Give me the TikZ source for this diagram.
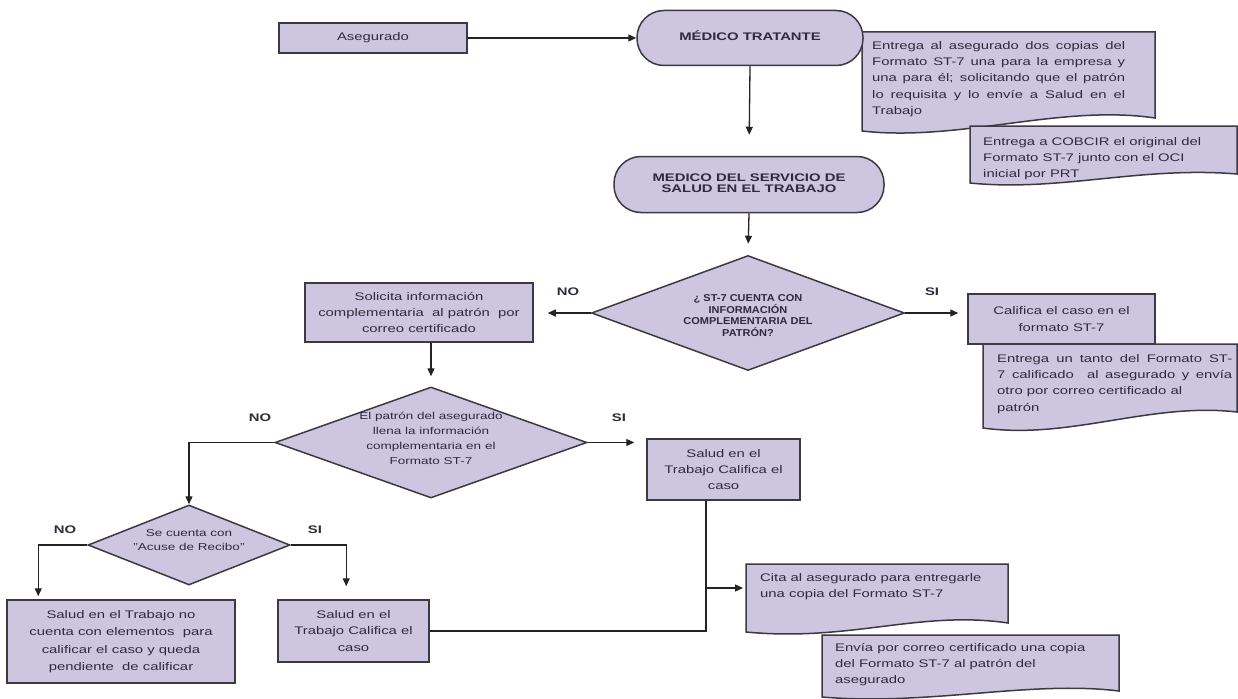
\documentclass[tikz,border=0pt]{standalone}
\usepackage{fontspec}
\setmainfont[FakeStretch=1.35]{Liberation Sans}
\newfontfamily\dfont[FakeStretch=1.1]{Liberation Sans}
\usetikzlibrary{arrows.meta,shapes.geometric}
\definecolor{boxfill}{RGB}{206,198,225}
\definecolor{boxline}{RGB}{58,58,64}
\definecolor{txt}{RGB}{45,43,60}
\definecolor{conn}{RGB}{35,35,35}
\newcommand\jst[2][253pt]{\makebox[#1][s]{#2}}
\tikzset{
 base/.style={draw=boxline, line width=1.5pt, fill=boxfill, text=txt, font=\fontsize{11}{16.2}\selectfont, inner sep=0pt},
 procbox/.style={base, rectangle, align=center},
 termbox/.style={base, rectangle, rounded corners=27pt, font=\fontsize{11}{16}\selectfont\bfseries, align=center},
 decbox/.style={base, diamond},
 doc/.style={draw=boxline, line width=1.5pt, fill=boxfill},
 txtnode/.style={text=txt, inner sep=0pt, font=\fontsize{11}{16.3}\selectfont},
 lbl/.style={text=txt, inner sep=0pt, font=\fontsize{11}{13}\selectfont\bfseries},
 conn/.style={draw=conn, line width=1.3pt},
 arr/.style={conn, -{Triangle[length=8pt,width=7pt]}},
}
\begin{document}
\begin{tikzpicture}[x=1pt,y=-1pt]
\useasboundingbox (0,0) rectangle (1238,698);

% top right document boxes
\draw[doc] (862,32) -- (1155,32) -- (1155,118) .. controls (1060,104) and (960,142) .. (862,131) -- cycle;
\node[txtnode, anchor=north west, align=left] (t1) at (872,41)
 {\jst{Entrega al asegurado dos copias del}\\
  \jst{Formato ST-7 una para la empresa y}\\
  \jst{una para él; solicitando que el patrón}\\
  \jst{lo requisita y lo envíe a Salud en el}\\
  Trabajo};
\draw[doc] (970,126) -- (1237,126) -- (1237,174) .. controls (1140,166) and (1060,192) .. (970,183) -- cycle;
\node[txtnode, anchor=north west, align=left] (t2) at (983,137)
 {Entrega a COBCIR el original del\\Formato ST-7 junto con el OCI\\inicial por PRT};

% top row
\node[procbox, minimum width=188, minimum height=30] (aseg) at (373,38) {Asegurado};
\node[termbox, minimum width=226, minimum height=55] (medt) at (750,38) {\raisebox{5pt}{MÉDICO TRATANTE}};
\draw[arr] (aseg.east) -- (medt.west);

\node[termbox, minimum width=270, minimum height=56] (msst) at (749,184.5)
 {\raisebox{3pt}{\shortstack{MEDICO DEL SERVICIO DE\\SALUD EN EL TRABAJO}}};
\draw[arr, shorten >=21pt] (medt.south) -- (msst.north);

% decision 1
\node[decbox, minimum width=313, minimum height=115] (d1) at (748,313) {};
\node[text=txt, inner sep=0pt, align=center, font=\dfont\bfseries\fontsize{10}{11.8}\selectfont] (d1t) at (748,315.5)
 {¿ ST-7 CUENTA CON\\INFORMACIÓN\\COMPLEMENTARIA DEL\\PATRÓN?};
\draw[arr, shorten >=11pt] (msst.south) -- (d1.north);

\node[procbox, minimum width=228, minimum height=59] (solic) at (419,312.5)
 {Solicita información\\complementaria \ al patrón \ por\\correo certificado};
\draw[arr, shorten >=14pt] (d1.west) -- (d1.west -| solic.east);
\node[lbl] (no1) at (568,292) {NO};

\node[procbox, minimum width=187, minimum height=50] (calif) at (1061.5,319)
 {Califica el caso en el\\formato ST-7};
\draw[arr, shorten >=9pt] (d1.east) -- (d1.east -| calif.west);
\node[lbl] (si1) at (932,292) {SI};

\draw[doc] (983,344) -- (1237,344) -- (1237,412) .. controls (1150,402) and (1070,440) .. (983,428) -- cycle;
\node[txtnode, anchor=north west, align=left] (t3) at (997,354)
 {\jst[235pt]{Entrega un tanto del Formato ST-}\\
  \jst[235pt]{7 calificado \ al asegurado y envía}\\
  otro por correo certificado al\\
  patrón};

% decision 2
\node[decbox, minimum width=312, minimum height=111] (d2) at (431,442.5) {};
\node[text=txt, inner sep=0pt, align=center, font=\fontsize{10}{15}\selectfont] (d2t) at (431,438)
 {El patrón del asegurado\\llena la información\\complementaria en el\\Formato ST-7};
\draw[arr, shorten >=10pt] (solic.south -| d2.north) -- (d2.north);

\node[procbox, minimum width=153, minimum height=61] (salud1) at (723.5,469.5)
 {Salud en el\\Trabajo Califica el\\caso};
\draw[arr, shorten >=12pt] (d2.east) -- (d2.east -| salud1.west);
\node[lbl] (si2) at (619,418) {SI};

% decision 3
\node[decbox, minimum width=202, minimum height=80] (d3) at (189,545) {};
\node[text=txt, inner sep=0pt, align=center, font=\fontsize{10}{14}\selectfont] (d3t) at (189,540)
 {Se cuenta con\\"Acuse de Recibo"};
\draw[arr] (d2.west) -| (d3.north);
\node[lbl] (no2) at (260,418) {NO};

\node[procbox, minimum width=228, minimum height=83, font=\fontsize{11}{17.5}\selectfont] (nobox) at (121,641.5)
 {Salud en el Trabajo no\\cuenta con elementos \ para\\calificar el caso y queda\\pendiente \ de calificar};
\node[procbox, minimum width=151, minimum height=62, font=\fontsize{11}{16.5}\selectfont] (salud2) at (353.5,631)
 {Salud en el\\Trabajo Califica el\\caso};
\draw[arr, shorten >=3pt] (d3.west) -| ([xshift=32pt]nobox.north west);
\draw[arr, shorten >=13pt] (d3.east) -| ([xshift=69pt]salud2.north west);
\node[lbl] (no3) at (65,530) {NO};
\node[lbl] (si3) at (315,530) {SI};

% bottom right documents
\draw[doc] (746,564) -- (1008,564) -- (1008,623) .. controls (920,610) and (850,642) .. (746,632) -- cycle;
\coordinate (citaL) at (746,588);
\node[txtnode, anchor=north west, align=left] (t4) at (760,573)
 {Cita al asegurado para entregarle\\una copia del Formato ST-7};
\draw[doc] (822,635) -- (1119,635) -- (1119,691) .. controls (1030,680) and (930,706) .. (822,697) -- cycle;
\node[txtnode, anchor=north west, align=left] (t5) at (835,643)
 {Envía por correo certificado una copia\\del Formato ST-7 al patrón del\\asegurado};

% joining connector
\coordinate (j1) at (706,588);
\draw[conn] (salud1.south -| j1) |- (salud2.east);
\draw[arr, shorten >=3pt] (j1) -- (citaL);
\end{tikzpicture}
\end{document}
